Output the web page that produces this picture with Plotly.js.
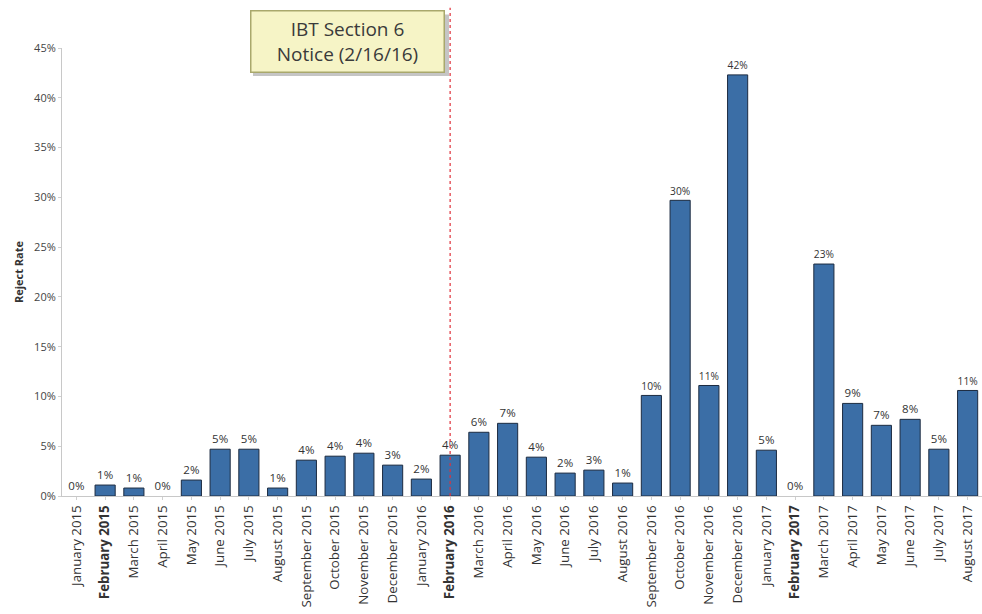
<!DOCTYPE html>
<html>
<head>
<meta charset="utf-8">
<script src="https://cdn.plot.ly/plotly-3.0.1.min.js"></script>
<style>html,body{margin:0;padding:0;background:#fff;}#chart{width:982px;height:614px;}</style>
</head>
<body>
<div id="chart"></div>
<script>
const months = ["January 2015","February 2015","March 2015","April 2015","May 2015","June 2015","July 2015","August 2015","September 2015","October 2015","November 2015","December 2015","January 2016","February 2016","March 2016","April 2016","May 2016","June 2016","July 2016","August 2016","September 2016","October 2016","November 2016","December 2016","January 2017","February 2017","March 2017","April 2017","May 2017","June 2017","July 2017","August 2017"];
const rejectRate = [0.000,0.011,0.008,0.000,0.016,0.047,0.047,0.008,0.036,0.040,0.043,0.031,0.017,0.041,0.064,0.073,0.039,0.023,0.026,0.013,0.101,0.297,0.111,0.423,0.046,0.000,0.233,0.093,0.071,0.077,0.047,0.106];
const boldTicks = ["February 2015","February 2016","February 2017"];
const tickLabels = months.map(m => boldTicks.includes(m) ? "<b>" + m + "</b>" : m);
const yTicks = [0,0.05,0.10,0.15,0.20,0.25,0.30,0.35,0.40,0.45];
const noticeMonth = "February 2016";
const noticeText = "IBT Section 6<br>Notice (2/16/16)";

const trace = {
  type: "bar",
  x: months,
  y: rejectRate,
  marker: {color: "#3b6ea6", line: {color: "#1c2b40", width: rejectRate.map(v => v > 0 ? 1 : 0)}},
  texttemplate: "%{y:.0%}",
  textposition: "outside",
  cliponaxis: false,
  textfont: {family: "Open Sans, DejaVu Sans, sans-serif", size: 11.5, color: "#333"},
  hoverinfo: "skip"
};

const layout = {
  width: 982, height: 614,
  margin: {l: 62, r: 0, t: 48, b: 118},
  paper_bgcolor: "#fff", plot_bgcolor: "#fff",
  showlegend: false,
  bargap: 0.3,
  font: {family: "Open Sans, DejaVu Sans, sans-serif", color: "#333"},
  xaxis: {
    type: "category",
    tickvals: months, ticktext: tickLabels,
    tickangle: -90,
    tickfont: {size: 13.3, color: "#333"},
    showline: true, linecolor: "#c8c8c8", linewidth: 1,
    ticks: "outside", ticklen: 3, tickcolor: "#d0d0d0",
    showgrid: false, zeroline: false
  },
  yaxis: {
    range: [0, 0.45],
    tickvals: yTicks, tickformat: ".0%",
    tickfont: {size: 11, color: "#444"},
    showline: true, linecolor: "#c8c8c8", linewidth: 1,
    ticks: "outside", ticklen: 3, tickcolor: "#d0d0d0",
    showgrid: false, zeroline: false,
    title: {text: "<b>Reject Rate</b>", font: {size: 11, color: "#333"}, standoff: 8}
  },
  shapes: [
    {type: "line", xref: "x", yref: "paper", x0: noticeMonth, x1: noticeMonth, y0: 0, y1: 1.09,
     line: {color: "#e0303a", width: 1.2, dash: "dot"}, layer: "above"},
    {type: "rect", xref: "paper", yref: "paper", x0: 0.2076, x1: 0.4207, y0: 0.9375, y1: 1.075,
     fillcolor: "rgba(110,110,110,0.4)", line: {width: 0}, layer: "above"}
  ],
  annotations: [
    {xref: "paper", yref: "paper", x: 0.3103, y: 1.0156, xanchor: "center", yanchor: "middle",
     text: noticeText, showarrow: false,
     width: 190, height: 58, align: "center", valign: "middle",
     bgcolor: "#f6f4c6", bordercolor: "#a9a86c", borderwidth: 1.5,
     font: {size: 19, color: "#3a3a3a", family: "Open Sans, DejaVu Sans, sans-serif"}}
  ]
};

Plotly.newPlot("chart", [trace], layout, {displayModeBar: false, staticPlot: true});
</script>
</body>
</html>
